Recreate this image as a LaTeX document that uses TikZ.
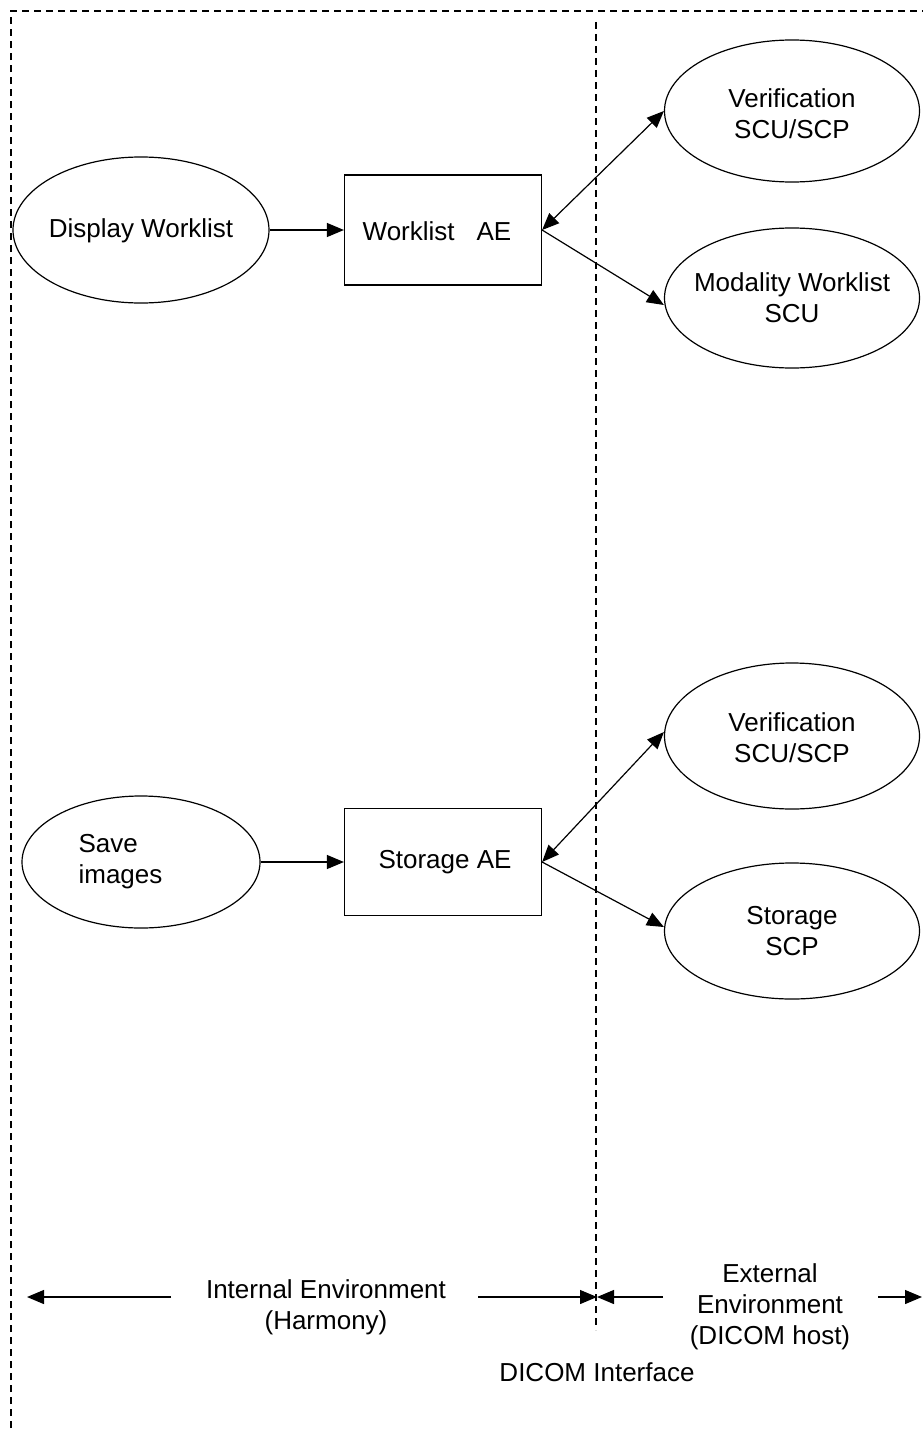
\documentclass[tikz,border=0pt]{standalone}
\usepackage{fontspec}
\setmainfont{Liberation Sans}
\usetikzlibrary{shapes.geometric,arrows.meta}
\begin{document}
\begin{tikzpicture}[x=1pt,y=-1pt,
  line width=1.2pt,
  oval/.style={draw,ellipse,inner sep=0pt},
  box/.style={draw,rectangle,minimum width=197pt,minimum height=110pt,inner sep=0pt},
  lbl/.style={font=\fontsize{26}{31}\selectfont,align=center,inner sep=0pt},
  arr/.style={-{Triangle[length=17pt,width=14pt]}},
  biarr/.style={{Triangle[length=17pt,width=14pt]}-{Triangle[length=17pt,width=14pt]}},
  dsh/.style={dash pattern=on 7pt off 5pt}]
\useasboundingbox (0,0) rectangle (922,1429);
% outer dashed frame
\draw[dsh] (11,1440) -- (11,11) -- (940,11);
% interface line
\coordinate (ifTop) at (596,22);
\coordinate (ifBot) at (596,1330);
\draw[dsh] (ifTop) -- (ifBot);
% top group
\node[oval,minimum width=256pt,minimum height=146pt] (dw) at (141,230) {};
\node[lbl] (dwt) at (141,231) {Display Worklist};
\node[box] (wae) at (443,230) {};
\node[lbl] at (437,231) {Worklist\hspace{22pt}AE};
\node[oval,minimum width=255pt,minimum height=142pt] (v1) at (792,111) {};
\node[lbl] at (792,114) {Verification\\SCU/SCP};
\node[oval,minimum width=255pt,minimum height=140pt] (mw) at (792,298) {};
\node[lbl] at (792,298) {Modality Worklist\\SCU};
\draw[arr] (dw.east) -- (wae.west);
\draw[biarr] (wae.east) -- (v1.west);
\draw[arr] (wae.east) -- ([yshift=-7pt]mw.west);
% bottom group
\node[oval,minimum width=238pt,minimum height=132pt] (si) at (141,862) {};
\node[lbl,align=left,anchor=west] at (78,862) {Save\\images};
\node[box,minimum height=107pt] (sae) at (443,862) {};
\node[lbl] at (445,862) {Storage AE};
\node[oval,minimum width=255pt,minimum height=146pt] (v2) at (792,736) {};
\node[lbl] at (792,738) {Verification\\SCU/SCP};
\node[oval,minimum width=255pt,minimum height=136pt] (ss) at (792,931) {};
\node[lbl] at (792,931) {Storage\\SCP};
\draw[arr] (si.east) -- (sae.west);
\draw[biarr] (sae.east) -- ([yshift=4pt]v2.west);
\draw[arr] (sae.east) -- ([yshift=4pt]ss.west);
% bottom legend
\node[lbl] (intl) at (326,1307) {Internal Environment\\(Harmony)};
\node[lbl] (extl) at (770,1307) {External\\Environment\\(DICOM host)};
\node[lbl] (dicom) at (597,1372) {DICOM Interface};
\coordinate (a1s) at (171,1297);
\coordinate (a1e) at (27,1297);
\coordinate (a2s) at (478,1297);
\coordinate (a2e) at (597,1297);
\coordinate (a3s) at (663,1297);
\coordinate (a3e) at (597,1297);
\coordinate (a4s) at (878,1297);
\coordinate (a4e) at (922,1297);
\draw[arr] (a1s) -- (a1e);
\draw[arr] (a2s) -- (a2e);
\draw[arr] (a3s) -- (a3e);
\draw[arr] (a4s) -- (a4e);
\end{tikzpicture}
\end{document}
